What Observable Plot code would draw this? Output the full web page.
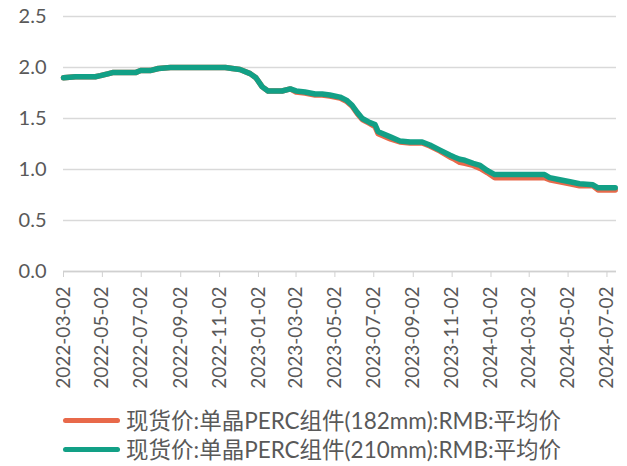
<!DOCTYPE html>
<html><head><meta charset="utf-8">
<script src="https://cdn.jsdelivr.net/npm/d3@7"></script>
<script src="https://cdn.jsdelivr.net/npm/@observablehq/plot@0.6"></script>
<style>
body{margin:0;background:#fff;font-family:Lato,"Noto Sans CJK SC",sans-serif;overflow:hidden;}
#legend{margin-left:63px;margin-top:11px;color:#595959;font-size:22.5px;line-height:29px;}
.item{display:flex;align-items:center;white-space:nowrap;height:29px;}
.sw{display:inline-block;width:57px;height:5px;border-radius:3px;margin-right:6px;}
</style></head><body>
<div id="chart"></div>
<div id="legend"></div>
<script>
const dates = ["2022-03-02","2022-03-21","2022-04-21","2022-04-29","2022-05-12","2022-05-18","2022-06-23","2022-07-01","2022-07-16","2022-07-29","2022-08-17","2022-11-11","2022-11-22","2022-12-04","2022-12-20","2022-12-29","2023-01-08","2023-01-17","2023-02-08","2023-02-21","2023-03-02","2023-03-16","2023-04-01","2023-04-12","2023-04-24","2023-05-10","2023-05-20","2023-05-29","2023-06-06","2023-06-14","2023-06-26","2023-07-04","2023-07-09","2023-07-28","2023-08-12","2023-08-28","2023-09-16","2023-09-28","2023-10-14","2023-10-30","2023-11-06","2023-11-14","2023-11-22","2023-12-05","2023-12-16","2023-12-27","2024-01-08","2024-03-26","2024-04-03","2024-04-19","2024-05-05","2024-05-20","2024-06-10","2024-06-18","2024-07-15"];
const price210 = [1.90,1.91,1.91,1.92,1.94,1.95,1.95,1.97,1.97,1.99,2.00,2.00,1.99,1.98,1.94,1.90,1.81,1.77,1.77,1.79,1.77,1.76,1.74,1.74,1.73,1.71,1.68,1.63,1.56,1.50,1.46,1.44,1.37,1.32,1.28,1.27,1.27,1.24,1.19,1.14,1.12,1.10,1.09,1.06,1.04,0.99,0.95,0.95,0.92,0.90,0.88,0.86,0.85,0.82,0.82];
const price182 = [1.90,1.91,1.91,1.92,1.94,1.95,1.95,1.97,1.97,1.99,2.00,2.00,1.99,1.98,1.94,1.90,1.81,1.77,1.77,1.79,1.76,1.75,1.73,1.73,1.72,1.70,1.67,1.62,1.55,1.49,1.45,1.42,1.35,1.30,1.27,1.26,1.26,1.23,1.18,1.12,1.10,1.07,1.06,1.04,1.01,0.97,0.92,0.92,0.90,0.88,0.86,0.84,0.84,0.80,0.80];
const tickDates = ["2022-03-02","2022-05-02","2022-07-02","2022-09-02","2022-11-02","2023-01-02","2023-03-02","2023-05-02","2023-07-02","2023-09-02","2023-11-02","2024-01-02","2024-03-02","2024-05-02","2024-07-02"];
const yTicks = [0,0.5,1.0,1.5,2.0,2.5];
const seriesNames = ["现货价:单晶PERC组件(182mm):RMB:平均价","现货价:单晶PERC组件(210mm):RMB:平均价"];
const colors = ["#E8694A","#12A086"];

const parse = d3.utcParse("%Y-%m-%d");
const d182 = dates.map((d,i)=>({date:parse(d), v:price182[i]}));
const d210 = dates.map((d,i)=>({date:parse(d), v:price210[i]}));

const chart = Plot.plot({
  width:627, height:395,
  marginLeft:63, marginRight:11, marginTop:16, marginBottom:124,
  style:{fontFamily:"Lato, 'Noto Sans CJK SC', sans-serif", fontSize:"18px", color:"#595959", background:"#fff"},
  x:{type:"utc", domain:[parse("2022-03-02"), parse("2024-07-17")], label:null},
  y:{domain:[0,2.5], label:null},
  marks:[
    Plot.gridY(yTicks, {stroke:"#d9d9d9", strokeOpacity:1, strokeWidth:1.3}),
    Plot.ruleY([0], {stroke:"#d0d0d0", strokeWidth:1.3}),
    Plot.axisX({ticks:tickDates.map(parse), tickFormat:d3.utcFormat("%Y-%m-%d"), tickRotate:-90, tickSize:6, tickPadding:9, stroke:"#d0d0d0", fill:"#595959", fontSize:19, label:null}),
    Plot.axisY({ticks:yTicks, tickFormat:d3.format(".1f"), tickSize:0, tickPadding:17, fill:"#595959", fontSize:20, label:null}),
    Plot.line(d182, {x:"date", y:"v", stroke:colors[0], strokeWidth:5.5, strokeLinejoin:"round"}),
    Plot.line(d210, {x:"date", y:"v", stroke:colors[1], strokeWidth:5.5, strokeLinejoin:"round"})
  ]
});
document.getElementById("chart").appendChild(chart);
const lg = document.getElementById("legend");
seriesNames.forEach((n,i)=>{
  const it = document.createElement("div"); it.className="item";
  const sw = document.createElement("span"); sw.className="sw"; sw.style.background=colors[i];
  const t = document.createElement("span"); t.textContent=n;
  it.appendChild(sw); it.appendChild(t); lg.appendChild(it);
});
</script></body></html>
